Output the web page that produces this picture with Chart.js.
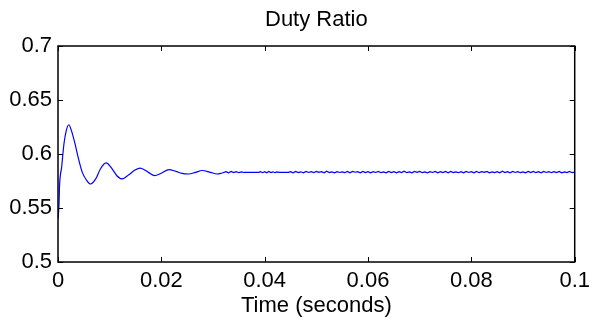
<!DOCTYPE html>
<html><head><meta charset="utf-8">
<script src="https://cdn.jsdelivr.net/npm/chart.js@4"></script>
<style>html,body{margin:0;padding:0;background:#fff;}#wrap{width:596px;height:322px;}</style>
</head><body><div id="wrap"><canvas id="c" width="596" height="322"></canvas></div>
<script>
const chartTitle = "Duty Ratio";
const xAxisTitle = "Time (seconds)";

const timeSeconds = [
  0.0000,0.0002,0.0003,0.0007,0.00115,0.0016,0.0021,0.0026,0.0033,0.0039,
  0.0047,0.0055,0.0063,0.0073,0.0082,0.0093,0.0105,0.0114,0.0124,0.0137,
  0.0149,0.0159,0.0175,0.0187,0.0199,0.0215,0.0228,0.0240,0.0253,0.0266,
  0.0279,0.0295,0.0308,0.0318,
  0.0325,0.0330,0.0335,0.0340,0.0345,0.0350,0.0355,0.0360,
  0.0364,0.0388,
  0.0392,0.0396,0.0400,0.0404,0.0408,0.0412,0.0416,0.0420,0.0424,
  0.0428,0.0446,
  0.0450,0.0455,0.0460,0.0465,0.0470,0.0475,0.0480,0.0485,0.0490,0.0495,
  0.0500,0.0505,0.0510,0.0515,0.0520,0.0525,0.0530,0.0535,0.0540,0.0545,
  0.0550,0.0555,0.0560,0.0565,0.0570,0.0575,0.0580,0.0585,0.0590,0.0595,
  0.0600,0.0605,0.0610,0.0615,0.0620,0.0625,0.0630,0.0635,0.0640,0.0645,
  0.0650,0.0655,0.0660,0.0665,0.0670,0.0675,0.0680,0.0685,0.0690,0.0695,
  0.0700,0.0705,0.0710,0.0715,0.0720,0.0725,0.0730,0.0735,0.0740,0.0745,
  0.0750,0.0755,0.0760,0.0765,0.0770,0.0775,0.0780,0.0785,0.0790,0.0795,
  0.0800,0.0805,0.0810,0.0815,0.0820,0.0825,0.0830,0.0835,0.0840,0.0845,
  0.0850,0.0855,0.0860,0.0865,0.0870,0.0875,0.0880,0.0885,0.0890,0.0895,
  0.0900,0.0905,0.0910,0.0915,0.0920,0.0925,0.0930,0.0935,0.0940,0.0945,
  0.0950,0.0955,0.0960,0.0965,0.0970,0.0975,0.0980,0.0985,0.0990,0.0995,
  0.1000
];

const dutyRatio = [
  0.5400,0.5537,0.5707,0.5876,0.6093,0.6216,0.6271,0.6216,0.6093,0.5969,
  0.5830,0.5759,0.5722,0.5769,0.5861,0.5917,0.5861,0.5799,0.5769,0.5808,
  0.5852,0.5870,0.5830,0.5800,0.5820,0.5855,0.5839,0.5820,0.5815,0.5830,
  0.5847,0.5830,0.5815,0.5824,
  0.5836,0.5826,0.5838,0.5828,0.5837,0.5827,0.5835,0.5829,
  0.5830,0.5830,
  0.5837,0.5827,0.5836,0.5826,0.5838,0.5828,0.5835,0.5827,0.5834,
  0.5830,0.5830,
  0.5837,0.5826,0.5839,0.5828,0.5835,0.5825,0.5838,0.5829,0.5836,0.5827,
  0.5839,0.5830,0.5836,0.5826,0.5840,0.5828,0.5834,0.5825,0.5837,0.5829,
  0.5835,0.5827,0.5838,0.5826,0.5839,0.5831,0.5836,0.5825,0.5838,0.5828,
  0.5836,0.5826,0.5837,0.5829,0.5839,0.5827,0.5835,0.5826,0.5838,0.5828,
  0.5837,0.5825,0.5836,0.5828,0.5840,0.5827,0.5834,0.5826,0.5838,0.5830,
  0.5839,0.5827,0.5835,0.5826,0.5837,0.5829,0.5838,0.5825,0.5836,0.5828,
  0.5838,0.5826,0.5839,0.5828,0.5835,0.5827,0.5837,0.5826,0.5839,0.5829,
  0.5836,0.5825,0.5838,0.5827,0.5836,0.5830,0.5839,0.5826,0.5835,0.5828,
  0.5837,0.5826,0.5840,0.5828,0.5836,0.5825,0.5838,0.5829,0.5837,0.5827,
  0.5835,0.5826,0.5838,0.5828,0.5839,0.5827,0.5836,0.5826,0.5838,0.5829,
  0.5837,0.5827,0.5836,0.5828,0.5839,0.5826,0.5835,0.5828,0.5838,0.5827,
  0.5832
];

// index where the settled (rippling) part of the record begins
const settledStartIndex = 33;

const xTickValues = [0, 0.02, 0.04, 0.06, 0.08, 0.1];
const xTickLabels = ["0", "0.02", "0.04", "0.06", "0.08", "0.1"];
const yTickValues = [0.5, 0.55, 0.6, 0.65, 0.7];
const yTickLabels = ["0.5", "0.55", "0.6", "0.65", "0.7"];

const points = timeSeconds.map((t, i) => ({ x: t, y: dutyRatio[i] }));
const transientPoints = points.slice(0, settledStartIndex + 1);
const settledPoints = points.slice(settledStartIndex);

Chart.defaults.font.family = "'Liberation Sans', Arial, sans-serif";
Chart.defaults.color = "#000";

const boxPlugin = {
  id: 'box',
  afterDraw(chart) {
    const { ctx, chartArea: a, scales: { x, y } } = chart;
    ctx.save();
    ctx.strokeStyle = '#000';
    ctx.lineWidth = 1.5;
    ctx.strokeRect(a.left, a.top, a.right - a.left, a.bottom - a.top);
    ctx.lineWidth = 1;
    ctx.beginPath();
    xTickValues.forEach(v => {
      const px = Math.round(x.getPixelForValue(v)) + 0.5;
      ctx.moveTo(px, a.bottom); ctx.lineTo(px, a.bottom - 5);
      ctx.moveTo(px, a.top); ctx.lineTo(px, a.top + 5);
    });
    yTickValues.forEach(v => {
      const py = Math.round(y.getPixelForValue(v)) + 0.5;
      ctx.moveTo(a.left, py); ctx.lineTo(a.left + 5, py);
      ctx.moveTo(a.right, py); ctx.lineTo(a.right - 5, py);
    });
    ctx.stroke();
    ctx.restore();
  }
};

new Chart(document.getElementById('c'), {
  type: 'line',
  data: {
    datasets: [{
      data: transientPoints,
      borderColor: 'rgb(0,0,255)',
      borderWidth: 1.2,
      pointRadius: 0,
      fill: false,
      cubicInterpolationMode: 'monotone'
    }, {
      data: settledPoints,
      borderColor: 'rgb(0,0,255)',
      borderWidth: 1.2,
      pointRadius: 0,
      fill: false,
      tension: 0
    }]
  },
  options: {
    responsive: false,
    animation: false,
    layout: { padding: { left: 0, right: 18, top: 0, bottom: 0 } },
    plugins: {
      legend: { display: false },
      tooltip: { enabled: false },
      title: {
        display: true,
        text: chartTitle,
        fullSize: false,
        color: '#000',
        font: { size: 22, weight: 'normal' },
        padding: { top: 7, bottom: 12.6 }
      }
    },
    scales: {
      x: {
        type: 'linear',
        min: 0, max: 0.1,
        afterBuildTicks: s => { s.ticks = xTickValues.map(v => ({ value: v })); },
        afterFit: s => { s.height = 60; },
        grid: { display: false, drawTicks: false },
        border: { display: false },
        ticks: {
          padding: 6,
          maxRotation: 0,
          autoSkip: false,
          font: { size: 22 },
          color: '#000',
          callback: (v, i) => xTickLabels[i]
        },
        title: {
          display: true,
          text: xAxisTitle,
          color: '#000',
          font: { size: 22 },
          padding: { top: 0, bottom: 3 }
        }
      },
      y: {
        type: 'linear',
        min: 0.5, max: 0.7,
        afterBuildTicks: s => { s.ticks = yTickValues.map(v => ({ value: v })); },
        afterFit: s => { s.width = 58; },
        grid: { display: false, drawTicks: false },
        border: { display: false },
        ticks: {
          padding: 6,
          autoSkip: false,
          font: { size: 22 },
          color: '#000',
          callback: (v, i) => yTickLabels[i]
        }
      }
    }
  },
  plugins: [boxPlugin]
});
</script>
</body></html>
